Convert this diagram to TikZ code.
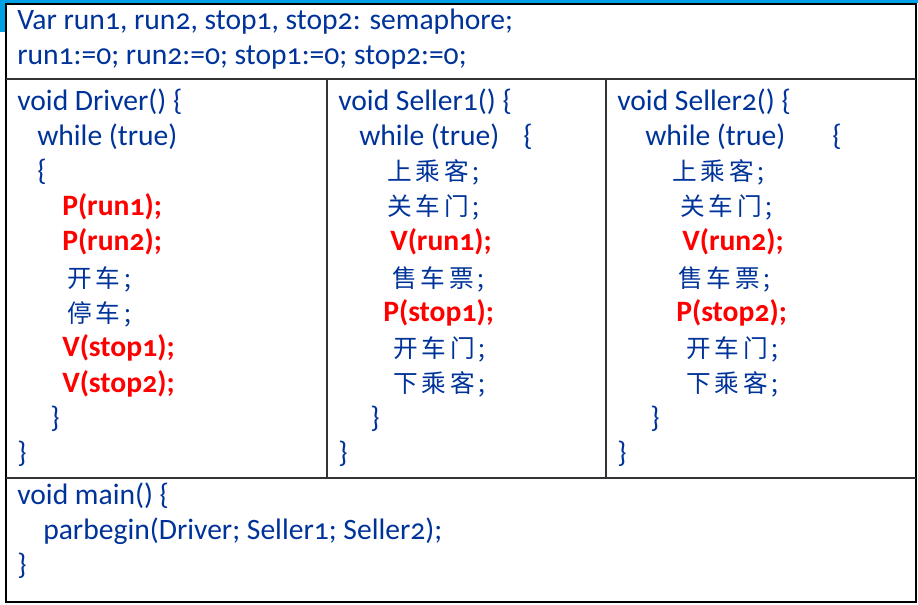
\documentclass[tikz,border=0pt]{standalone}
\usepackage{fontspec}
\setmainfont{Carlito}[Numbers=OldStyle]
\newfontfamily\cjk{Noto Sans CJK SC}[LetterSpace=15]
\usetikzlibrary{positioning}

\begin{document}
\begin{tikzpicture}[x=0.75pt, y=-0.75pt,
    code/.style={anchor=base west, inner sep=0pt, text=codeblue, font=\fontsize{22.2}{26}\selectfont},
    op/.style={code, text=opred, font=\fontsize{22.2}{26}\selectfont\bfseries},
    zh/.style={code, font=\fontsize{18.5}{22}\selectfont\cjk},
    frame/.style={line width=1.6pt, draw=black},
    rule/.style={line width=0.9pt, draw=black!80}]
    \definecolor{codeblue}{RGB}{0,51,153}
    \definecolor{opred}{RGB}{255,0,0}
    \definecolor{slideblue}{RGB}{0,160,230}
    \useasboundingbox (0,0) rectangle (918,605);
    % slide background
    \fill[slideblue] (0,0) rectangle (918,3);
    \fill[slideblue] (0,0) rectangle (5,32);
    % table
    \draw[frame] (6,4) rectangle (916,602);
    \draw[rule] (6,79) -- (916,79);
    \draw[rule] (6,478) -- (916,478);
    \draw[rule] (327,79) -- (327,478);
    \draw[rule] (606,79) -- (606,478);
    % Declarations
    \node[code] (decl) at (17,30) {Var run1, run2, stop1, stop2: semaphore;};
    \node[code] (init) at (17,65) {run1:=0; run2:=0; stop1:=0; stop2:=0;};
    % Driver
    \node[code] (drvhead) at (17,111) {void Driver() \{};
    \node[code] (drvwhile) at (37,146) {while (true)};
    \node[code] (drvopen) at (37,181) {\{};
    \node[op] (drvprunA) at (62,216) {P(run1);};
    \node[op] (drvprunB) at (62,251) {P(run2);};
    \node[zh] (drvstart) at (67,288) {开车;};
    \node[zh] (drvstop) at (67,323) {停车;};
    \node[op] (drvvstopA) at (62,357) {V(stop1);};
    \node[op] (drvvstopB) at (62,393) {V(stop2);};
    \node[code] (drvclose) at (50,428) {\}};
    \node[code] (drvend) at (17,463) {\}};
    % Seller1
    \node[code] (slahead) at (338,111) {void Seller1() \{};
    \node[code] (slawhile) at (359,146) {while (true)};
    \node[code] (slaopen) at (523,146) {\{};
    \node[zh] (slaboard) at (387,181) {上乘客;};
    \node[zh] (slashut) at (387,216) {关车门;};
    \node[op] (slavrun) at (390,251) {V(run1);};
    \node[zh] (slaticket) at (392,288) {售车票;};
    \node[op] (slapstop) at (383,322) {P(stop1);};
    \node[zh] (slaopendoor) at (393,358) {开车门;};
    \node[zh] (slaleave) at (393,393) {下乘客;};
    \node[code] (slaclose) at (370,428) {\}};
    \node[code] (slaend) at (338,463) {\}};
    % Seller2
    \node[code] (slbhead) at (617,111) {void Seller2() \{};
    \node[code] (slbwhile) at (645,146) {while (true)};
    \node[code] (slbopen) at (832,146) {\{};
    \node[zh] (slbboard) at (672,181) {上乘客;};
    \node[zh] (slbshut) at (680,216) {关车门;};
    \node[op] (slbvrun) at (682,251) {V(run2);};
    \node[zh] (slbticket) at (678,288) {售车票;};
    \node[op] (slbpstop) at (676,322) {P(stop2);};
    \node[zh] (slbopendoor) at (686,358) {开车门;};
    \node[zh] (slbleave) at (686,393) {下乘客;};
    \node[code] (slbclose) at (650,428) {\}};
    \node[code] (slbend) at (617,463) {\}};
    % main
    \node[code] (mainhead) at (17,505) {void main() \{};
    \node[code] (mainpar) at (43,540) {parbegin(Driver; Seller1; Seller2);};
    \node[code] (mainend) at (17,575) {\}};
\end{tikzpicture}
\end{document}
